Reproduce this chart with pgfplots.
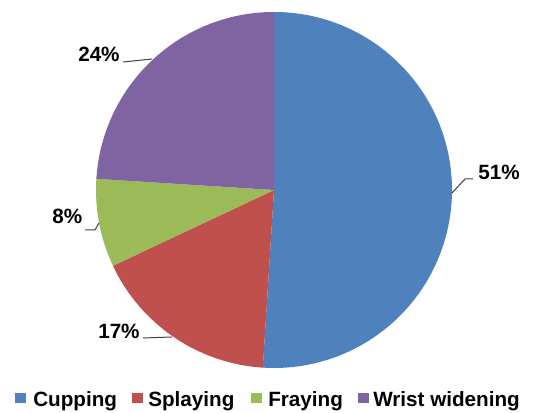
\documentclass[border=0pt]{standalone}
\usepackage{fontspec}
\setmainfont{Liberation Sans}
\usepackage{pgfplots}
\usepackage{pgfplotstable}
\pgfplotsset{compat=1.18}
\definecolor{cup}{HTML}{4F81BD}
\definecolor{spl}{HTML}{C0504D}
\definecolor{fra}{HTML}{9BBB59}
\definecolor{wri}{HTML}{8064A2}
\definecolor{lead}{HTML}{404040}
\pgfplotstableread{
label value
Cupping 51
Splaying 17
Fraying 8
Wrist 24
}\piedata
\begin{document}
\begin{tikzpicture}
\pgfplotstablegetelem{0}{value}\of\piedata \let\vA\pgfplotsretval
\pgfplotstablegetelem{1}{value}\of\piedata \let\vB\pgfplotsretval
\pgfplotstablegetelem{2}{value}\of\piedata \let\vC\pgfplotsretval
\pgfplotstablegetelem{3}{value}\of\piedata \let\vD\pgfplotsretval
\pgfmathsetmacro\aA{90}
\pgfmathsetmacro\aB{90-\vA*3.6}
\pgfmathsetmacro\aC{\aB-\vB*3.6}
\pgfmathsetmacro\aD{\aC-\vC*3.6}
\pgfmathsetmacro\aE{\aD-\vD*3.6}
\begin{axis}[hide axis, scale only axis, width=407.25pt, height=309.75pt,
  xmin=0, xmax=543, ymin=0, ymax=413, clip=false]
\addplot[draw=none] coordinates {(0,0) (543,413)};
\path (axis cs:0,0) rectangle (axis cs:543,413);
\fill[cup] (axis cs:274,223) -- ++(\aA:133.5pt) arc[start angle=\aA, end angle=\aB, radius=133.5pt] -- cycle;
\fill[spl] (axis cs:274,223) -- ++(\aB:133.5pt) arc[start angle=\aB, end angle=\aC, radius=133.5pt] -- cycle;
\fill[fra] (axis cs:274,223) -- ++(\aC:133.5pt) arc[start angle=\aC, end angle=\aD, radius=133.5pt] -- cycle;
\fill[wri] (axis cs:274,223) -- ++(\aD:133.5pt) arc[start angle=\aD, end angle=\aE, radius=133.5pt] -- cycle;
% leader lines
\draw[lead, line width=0.75pt] (axis cs:452,220) -- (axis cs:465,234) -- (axis cs:473,234);
\draw[lead, line width=0.75pt] (axis cs:123,351) -- (axis cs:152,354);
\draw[lead, line width=0.75pt] (axis cs:85,183) -- (axis cs:95,183) -- (axis cs:99,190);
\draw[lead, line width=0.75pt] (axis cs:143,75) -- (axis cs:172,76);
% labels
\tikzset{lbl/.style={anchor=base west, inner sep=0pt, font=\fontsize{15.5}{18}\selectfont\bfseries}}
\node[lbl] at (axis cs:478,233) {\vA\%};
\node[lbl] at (axis cs:78,351) {\vD\%};
\node[lbl] at (axis cs:52,189) {\vC\%};
\node[lbl] at (axis cs:98,74) {\vB\%};
% legend
\fill[cup] (axis cs:15,10) rectangle (axis cs:26,20);
\fill[spl] (axis cs:132,10) rectangle (axis cs:143,20);
\fill[fra] (axis cs:251,10) rectangle (axis cs:262,20);
\fill[wri] (axis cs:358,10) rectangle (axis cs:369,20);
\node[lbl] at (axis cs:33,6.3) {Cupping};
\node[lbl] at (axis cs:148,6.3) {Splaying};
\node[lbl] at (axis cs:268,6.3) {Fraying};
\node[lbl] at (axis cs:373,6.3) {Wrist widening};
\end{axis}
\end{tikzpicture}
\end{document}
